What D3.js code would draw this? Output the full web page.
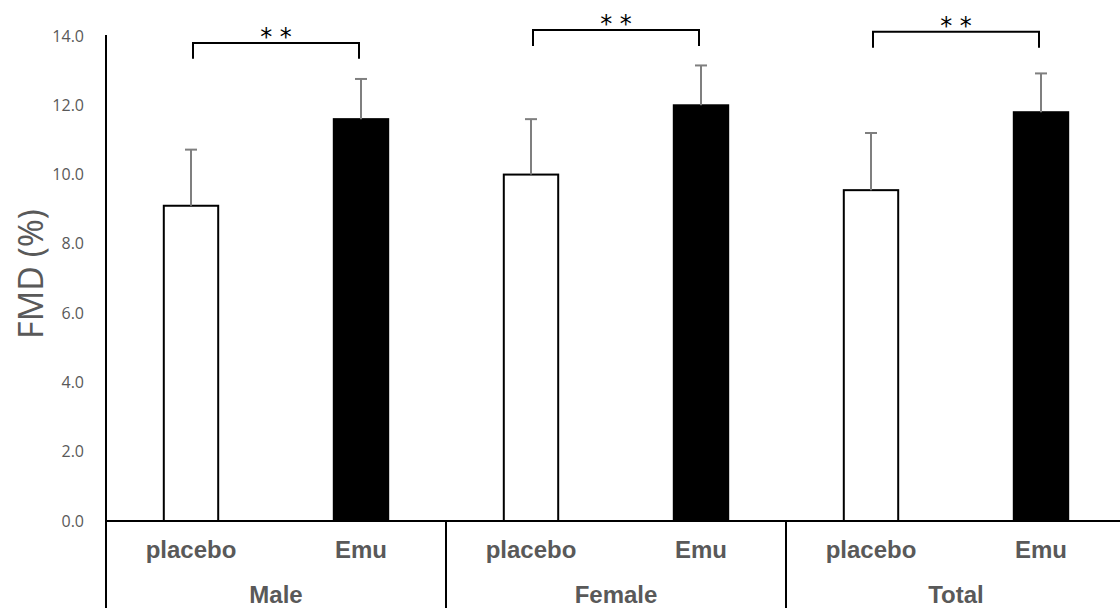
<!DOCTYPE html>
<html>
<head>
<meta charset="utf-8">
<script src="https://cdn.jsdelivr.net/npm/d3@7"></script>
<style>
  body { margin: 0; background: #fff; }
  svg { display: block; }
</style>
</head>
<body>
<div id="chart"></div>
<script>
var W = 1120, H = 610;

// data
var groups = ["Male", "Female", "Total"];
var treatments = ["placebo", "Emu"];
var placeboMean = [9.1, 10.0, 9.55];
var placeboErr = [1.62, 1.6, 1.65];
var emuMean = [11.6, 12.0, 11.8];
var emuErr = [1.16, 1.15, 1.12];
var bracketLevel = [13.8, 14.17, 14.12];
var sigLabel = ["* *", "* *", "* *"];
var yTicks = [0, 2, 4, 6, 8, 10, 12, 14];

var grey = "#595959";
var errGrey = "#7f7f7f";

var x0 = 106, slot = 170;
var bars = [];
for(let g = 0; g < groups.length; g++) {
	bars.push({ key: groups[g] + "-placebo", group: g, t: 0, v: placeboMean[g], e: placeboErr[g] });
	bars.push({ key: groups[g] + "-Emu", group: g, t: 1, v: emuMean[g], e: emuErr[g] });
}

var x = d3.scaleBand()
	.domain(bars.map(d => d.key))
	.range([x0, x0 + slot * bars.length])
	.paddingInner(0.68)
	.paddingOuter(0.34);

var y = d3.scaleLinear().domain([0, 14]).range([521, 36]);

var svg = d3.select("#chart").append("svg")
	.attr("width", W)
	.attr("height", H);

// y axis: labels only, no ticks
var yAxis = svg.append("g")
	.attr("transform", "translate(" + x0 + ",0)")
	.call(d3.axisLeft(y).tickValues(yTicks).tickFormat(d3.format(".1f")).tickSize(0).tickPadding(22));
yAxis.select(".domain").remove();
yAxis.selectAll("text")
	.style("font-family", "'Open Sans', sans-serif")
	.style("font-size", "16px")
	.attr("fill", grey);

svg.append("text")
	.attr("transform", "translate(43,274) rotate(-90)")
	.attr("text-anchor", "middle")
	.style("font-family", "'Open Sans', sans-serif")
	.style("font-size", "34px")
	.attr("fill", grey)
	.text("FMD (%)");

// bars
svg.selectAll("rect.bar")
	.data(bars)
	.enter()
	.append("rect")
	.attr("class", "bar")
	.attr("x", d => x(d.key))
	.attr("y", d => y(d.v))
	.attr("width", x.bandwidth())
	.attr("height", d => y(0) - y(d.v))
	.attr("fill", d => d.t === 0 ? "#fff" : "#000")
	.attr("stroke", "#000")
	.attr("stroke-width", 2);

// error bars (upper only)
var eb = svg.selectAll("g.err")
	.data(bars)
	.enter()
	.append("g")
	.attr("class", "err")
	.attr("stroke", errGrey)
	.attr("stroke-width", 2);
eb.append("line")
	.attr("x1", d => x(d.key) + x.bandwidth() / 2)
	.attr("x2", d => x(d.key) + x.bandwidth() / 2)
	.attr("y1", d => y(d.v))
	.attr("y2", d => y(d.v + d.e));
eb.append("line")
	.attr("x1", d => x(d.key) + x.bandwidth() / 2 - 6)
	.attr("x2", d => x(d.key) + x.bandwidth() / 2 + 6)
	.attr("y1", d => y(d.v + d.e))
	.attr("y2", d => y(d.v + d.e));

// axes lines
svg.append("line")
	.attr("x1", x0).attr("x2", W)
	.attr("y1", y(0)).attr("y2", y(0))
	.attr("stroke", "#000").attr("stroke-width", 2);
svg.append("line")
	.attr("x1", x0).attr("x2", x0)
	.attr("y1", y(14) - 1).attr("y2", 608)
	.attr("stroke", "#000").attr("stroke-width", 2);

// group separators
for(let g = 1; g < groups.length; g++) {
	svg.append("line")
		.attr("x1", x0 + g * slot * 2).attr("x2", x0 + g * slot * 2)
		.attr("y1", y(0)).attr("y2", 608)
		.attr("stroke", "#000").attr("stroke-width", 2);
}

// treatment labels
svg.selectAll("text.treat")
	.data(bars)
	.enter()
	.append("text")
	.attr("class", "treat")
	.attr("x", d => x(d.key) + x.bandwidth() / 2)
	.attr("y", 558)
	.attr("text-anchor", "middle")
	.style("font-family", "'Liberation Sans', Arial, sans-serif")
	.style("font-size", "24px")
	.style("font-weight", "bold")
	.attr("fill", grey)
	.text(d => treatments[d.t]);

// group labels
svg.selectAll("text.group")
	.data(groups)
	.enter()
	.append("text")
	.attr("class", "group")
	.attr("x", (d, i) => x0 + slot * (2 * i + 1))
	.attr("y", 603)
	.attr("text-anchor", "middle")
	.style("font-family", "'Liberation Sans', Arial, sans-serif")
	.style("font-size", "24px")
	.style("font-weight", "bold")
	.attr("fill", grey)
	.text(d => d);

// significance brackets
var legDrop = 0.46;
for(let g = 0; g < groups.length; g++) {
	let xa = x(groups[g] + "-placebo") + x.bandwidth() / 2 + 2;
	let xb = x(groups[g] + "-Emu") + x.bandwidth() / 2 - 2;
	let yl = y(bracketLevel[g]);
	svg.append("path")
		.attr("d", "M" + xa + "," + y(bracketLevel[g] - legDrop) + "V" + yl + "H" + xb + "V" + y(bracketLevel[g] - legDrop))
		.attr("fill", "none")
		.attr("stroke", "#000")
		.attr("stroke-width", 2);
	svg.append("text")
		.attr("x", (xa + xb) / 2)
		.attr("y", yl + 2)
		.attr("text-anchor", "middle")
		.style("font-family", "'DejaVu Sans', sans-serif")
		.style("font-size", "24px")
		.attr("fill", "#000")
		.text(sigLabel[g]);
}
</script>
</body>
</html>
